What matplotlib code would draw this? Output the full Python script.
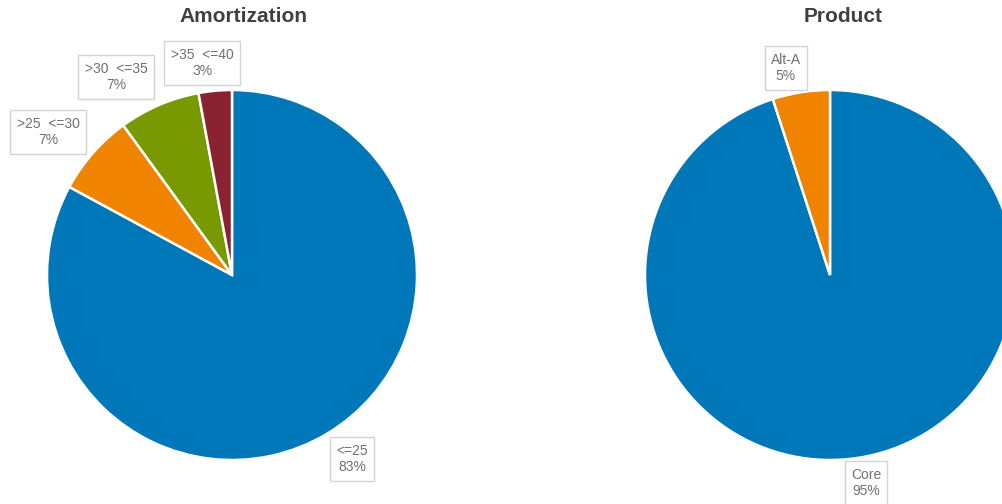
import matplotlib
matplotlib.use("Agg")
import matplotlib.pyplot as plt

plt.rcParams['font.family'] = ['Liberation Sans', 'DejaVu Sans']

# Data
amort_labels = ["<=25", ">25  <=30", ">30  <=35", ">35  <=40"]
amort_values = [82.9, 7.1, 7.1, 2.9]
amort_pct = ["83%", "7%", "7%", "3%"]
amort_colors = ["#0077b9", "#f08300", "#789a00", "#8b2232"]

prod_labels = ["Core", "Alt-A"]
prod_values = [95.0, 5.0]
prod_pct = ["95%", "5%"]
prod_colors = ["#0077b9", "#f08300"]

W, H = 1003, 504
fig = plt.figure(figsize=(W / 100, H / 100), dpi=100)
ax = fig.add_axes([0, 0, 1, 1])

R = 185
wp = dict(edgecolor='white', linewidth=1.8)
ax.pie(amort_values, colors=amort_colors, startangle=90, counterclock=False,
       center=(232, H - 275), radius=R, wedgeprops=wp, frame=True)
ax.pie(prod_values, colors=prod_colors, startangle=90, counterclock=False,
       center=(830, H - 275), radius=R, wedgeprops=wp, frame=True)
ax.set_xlim(0, W)
ax.set_ylim(0, H)
ax.set_aspect('equal')
ax.axis('off')

box = dict(boxstyle='square,pad=0.45', facecolor='white', edgecolor='#d4d4d4', linewidth=1)
amort_pos = [(352, 459), (48, 132), (116, 77), (202, 63)]
prod_pos = [(866, 483), (786, 68)]
for lab, pct, (x, y) in zip(amort_labels, amort_pct, amort_pos):
    ax.text(x, H - y, f"{lab}\n{pct}", ha='center', va='center', fontsize=10,
            color='#707070', bbox=box, linespacing=1.25)
for lab, pct, (x, y) in zip(prod_labels, prod_pct, prod_pos):
    ax.text(x, H - y, f"{lab}\n{pct}", ha='center', va='center', fontsize=10,
            color='#707070', bbox=box, linespacing=1.25)

fig.text(243 / W, 1 - 17 / H, "Amortization", ha='center', va='center',
         fontsize=15, fontweight='bold', color='#404040')
fig.text(843 / W, 1 - 17 / H, "Product", ha='center', va='center',
         fontsize=15, fontweight='bold', color='#404040')

fig.savefig("out.png", dpi=100, facecolor='white')
